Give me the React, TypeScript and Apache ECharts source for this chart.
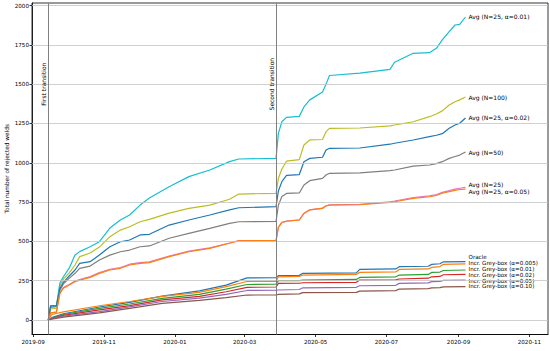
import React, { useEffect, useRef } from 'react';
import * as echarts from 'echarts';

// ---------- data ----------
const avgDates = [
  '2019-09-14', '2019-09-16', '2019-09-21', '2019-09-24', '2019-09-27', '2019-10-02', '2019-10-07',
  '2019-10-11', '2019-10-20', '2019-10-28', '2019-11-06', '2019-11-15', '2019-11-23', '2019-12-02',
  '2019-12-10', '2019-12-27', '2020-01-13', '2020-01-31', '2020-02-17', '2020-02-25', '2020-03-28',
  '2020-03-30', '2020-04-02', '2020-04-06', '2020-04-17', '2020-04-21', '2020-04-26', '2020-05-07',
  '2020-05-10', '2020-05-13', '2020-06-08', '2020-07-04', '2020-07-08', '2020-07-24', '2020-08-07',
  '2020-08-13', '2020-08-18', '2020-08-24', '2020-08-29', '2020-09-02', '2020-09-07',
];
const avgN25A001 = [
  0, 90, 90, 235, 275, 330, 413, 435, 466, 498, 585, 636, 668, 731, 776, 848, 912, 954, 1007, 1024, 1028,
  1187, 1261, 1289, 1295, 1355, 1400, 1450, 1500, 1555, 1570, 1594, 1639, 1696, 1700, 1728, 1781, 1834, 1876, 1880, 1927,
];
const avgN100 = [
  0, 70, 75, 220, 260, 300, 350, 403, 426, 464, 530, 572, 593, 625, 640, 680, 710, 731, 768, 801, 806,
  900, 960, 1010, 1020, 1113, 1145, 1148, 1198, 1219, 1221, 1235, 1240, 1261, 1293, 1310, 1330, 1367, 1388, 1400, 1418,
];
const avgN25A002 = [
  0, 90, 90, 200, 240, 280, 318, 360, 371, 413, 466, 498, 509, 541, 545, 604, 636, 668, 700, 714, 721,
  820, 880, 920, 925, 1007, 1028, 1035, 1081, 1092, 1094, 1118, 1124, 1145, 1166, 1175, 1185, 1219, 1240, 1251, 1285,
];
const avgN50 = [
  0, 80, 85, 190, 230, 265, 297, 329, 343, 382, 413, 434, 445, 466, 471, 520, 551, 583, 615, 625, 627,
  730, 785, 805, 808, 859, 886, 901, 922, 933, 936, 950, 954, 979, 986, 995, 1007, 1028, 1040, 1049, 1068,
];
const avgN25 = [
  0, 45, 50, 172, 206, 226, 248, 258, 276, 302, 323, 334, 355, 365, 370, 407, 438, 459, 490, 505, 506,
  591, 621, 629, 637, 679, 701, 712, 727, 733, 735, 752, 757, 779, 790, 798, 812, 823, 832, 838, 843,
];
const avgN25A005 = [
  0, 45, 50, 170, 203, 223, 244, 254, 271, 297, 318, 329, 350, 360, 365, 403, 434, 456, 488, 504, 505,
  590, 620, 628, 636, 678, 700, 710, 725, 731, 733, 748, 752, 774, 784, 792, 806, 816, 825, 830, 833,
];

const greyDates = [
  '2019-09-14', '2019-09-17', '2019-09-27', '2019-10-28', '2019-11-23', '2019-12-21', '2020-01-22',
  '2020-02-14', '2020-03-03', '2020-03-28', '2020-03-30', '2020-04-17', '2020-04-20', '2020-06-05',
  '2020-06-08', '2020-07-09', '2020-07-12', '2020-08-06', '2020-08-09', '2020-08-16', '2020-08-19', '2020-09-07',
];
const oracle = [0, 15, 40, 83, 112, 152, 185, 222, 268, 270, 282, 284, 297, 300, 322, 325, 339, 342, 354, 358, 370, 372];
const grey0005 = [0, 35, 52, 91, 118, 150, 176, 212, 245, 246, 275, 277, 286, 290, 303, 306, 322, 325, 335, 340, 354, 357];
const grey001 = [0, 12, 35, 74, 102, 138, 163, 196, 226, 228, 250, 251, 254, 258, 271, 275, 286, 290, 303, 305, 315, 318];
const grey002 = [0, 10, 30, 64, 92, 128, 150, 180, 208, 210, 233, 234, 237, 240, 254, 256, 261, 266, 275, 277, 288, 290];
const grey005 = [0, 8, 25, 53, 84, 118, 139, 163, 188, 190, 191, 194, 205, 208, 218, 221, 233, 236, 244, 245, 252, 254];
const grey010 = [0, 5, 18, 45, 74, 106, 125, 142, 159, 160, 163, 166, 174, 176, 184, 187, 197, 200, 205, 206, 211, 212];

const yTicks = [0, 250, 500, 750, 1000, 1250, 1500, 1750, 2000];
const xTickDates = ['2019-09-01', '2019-11-01', '2020-01-01', '2020-03-01', '2020-05-01', '2020-07-01', '2020-09-01', '2020-11-01'];
const transitionDates = ['2019-09-14', '2020-03-28'];
const transitionNames = ['First transition', 'Second transition'];
const transitionLabelSpan = [1000, 2000];
const xRange = ['2019-08-31', '2020-11-17'];
const yRange = [-92, 2016];

// ---------- helpers ----------
const ts = (s: string) => {
  const [y, m, d] = s.split('-').map(Number);
  return Date.UTC(y, m - 1, d);
};
const fmtMonth = (v: number) => {
  const d = new Date(v);
  return `${d.getUTCFullYear()}-${String(d.getUTCMonth() + 1).padStart(2, '0')}`;
};
const pairs = (dates: string[], vals: number[]) => dates.map((d, i) => [ts(d), vals[i]]);

const FONT = 'DejaVu Sans';

const seriesDefs = [
  { name: 'Oracle', color: '#1f77b4', dates: greyDates, values: oracle, dy: -4.2, fs: 5.6 },
  { name: 'Incr. Grey-box (α=0.005)', color: '#ff7f0e', dates: greyDates, values: grey0005, dy: -0.6, fs: 5.6 },
  { name: 'Incr. Grey-box (α=0.01)', color: '#2ca02c', dates: greyDates, values: grey001, dy: -1, fs: 5.6 },
  { name: 'Incr. Grey-box (α=0.02)', color: '#d62728', dates: greyDates, values: grey002, dy: 0.6, fs: 5.6 },
  { name: 'Incr. Grey-box (α=0.05)', color: '#9467bd', dates: greyDates, values: grey005, dy: 0.7, fs: 5.6 },
  { name: 'Incr. Grey-box (α=0.10)', color: '#8c564b', dates: greyDates, values: grey010, dy: -0.6, fs: 5.6 },
  { name: 'Avg (N=25)', color: '#e377c2', dates: avgDates, values: avgN25, dy: -2.6, fs: 6 },
  { name: 'Avg (N=50)', color: '#7f7f7f', dates: avgDates, values: avgN50, dy: 0, fs: 6 },
  { name: 'Avg (N=100)', color: '#bcbd22', dates: avgDates, values: avgN100, dy: 0, fs: 6 },
  { name: 'Avg (N=25, α=0.01)', color: '#17becf', dates: avgDates, values: avgN25A001, dy: 0, fs: 6 },
  { name: 'Avg (N=25, α=0.02)', color: '#1f77b4', dates: avgDates, values: avgN25A002, dy: 0, fs: 6 },
  { name: 'Avg (N=25, α=0.05)', color: '#ff7f0e', dates: avgDates, values: avgN25A005, dy: 2.2, fs: 6 },
];

export default function App() {
  const ref = useRef<HTMLDivElement>(null);
  useEffect(() => {
    document.body.style.margin = '0';
    if (!ref.current) return;
    const chart = echarts.init(ref.current, undefined, { renderer: 'svg' });
    const anchor = [[ts(transitionDates[0]), 0]];
    const option: any = {
      animation: false,
      textStyle: { fontFamily: FONT },
      grid: {
        left: 32, right: 2, top: 3, bottom: 16.5,
        outerBoundsMode: 'none',
        containLabel: false,
        show: true, borderColor: '#000', borderWidth: 0.8, backgroundColor: 'transparent',
      },
      xAxis: {
        type: 'value',
        min: ts(xRange[0]),
        max: ts(xRange[1]),
        splitLine: { show: false },
        axisLine: { show: true, onZero: false, lineStyle: { color: '#000', width: 0.8 } },
        axisTick: { show: true, length: 2.5, lineStyle: { color: '#000', width: 0.8 }, customValues: xTickDates.map(ts) },
        axisLabel: { customValues: xTickDates.map(ts), formatter: (v: number) => fmtMonth(v), fontSize: 5.6, color: '#000', margin: 4, fontFamily: FONT },
      },
      yAxis: {
        type: 'value',
        min: yRange[0],
        max: yRange[1],
        name: 'Total number of rejected welds',
        nameLocation: 'middle',
        nameGap: 22,
        nameMoveOverlap: false,
        nameTextStyle: { fontSize: 5.8, color: '#000', fontFamily: FONT },
        splitLine: { show: false },
        axisLine: { show: true, onZero: false, lineStyle: { color: '#000', width: 0.8 } },
        axisTick: { show: true, length: 2.5, lineStyle: { color: '#000', width: 0.8 }, customValues: yTicks },
        axisLabel: { customValues: yTicks, formatter: (v: number) => String(v), fontSize: 5.6, color: '#000', margin: 3, fontFamily: FONT },
      },
      series: [
        {
          type: 'line',
          name: 'grid',
          data: anchor,
          symbol: 'none',
          lineStyle: { color: 'rgba(0,0,0,0)' },
          silent: true,
          z: 1,
          markLine: {
            silent: true,
            symbol: 'none',
            animation: false,
            label: { show: false },
            lineStyle: { color: '#c4c4c4', width: 0.8, type: 'solid' },
            data: yTicks.map((v) => ({ yAxis: v })),
          },
        },
        ...seriesDefs.map((s) => ({
          type: 'line',
          name: s.name,
          data: pairs(s.dates, s.values),
          symbol: 'none',
          showSymbol: false,
          z: 2,
          lineStyle: { color: s.color, width: 1.2 },
          itemStyle: { color: s.color },
          endLabel: {
            show: true,
            formatter: '{a}',
            fontSize: s.fs,
            lineHeight: s.fs,
            fontFamily: FONT,
            color: '#000',
            distance: 3,
            offset: [0, s.dy],
          },
        })),
        {
          type: 'line',
          name: 'transitions',
          data: anchor,
          symbol: 'none',
          lineStyle: { color: 'rgba(0,0,0,0)' },
          silent: true,
          z: 3,
          markLine: {
            silent: true,
            symbol: 'none',
            animation: false,
            label: { show: false },
            lineStyle: { color: '#808080', width: 1, type: 'solid' },
            data: transitionDates.map((d) => ({ xAxis: ts(d) })),
          },
        },
        {
          type: 'line',
          name: 'transitionLabels',
          data: anchor,
          symbol: 'none',
          lineStyle: { color: 'rgba(0,0,0,0)' },
          silent: true,
          z: 3,
          markLine: {
            silent: true,
            symbol: 'none',
            animation: false,
            lineStyle: { color: 'rgba(0,0,0,0)', width: 1 },
            label: { show: true, position: 'insideMiddleTop', formatter: '{b}', fontSize: 6, fontFamily: FONT, color: '#000', distance: 2 },
            data: transitionDates.map((d, i) => [
              { name: transitionNames[i], coord: [ts(d), transitionLabelSpan[0]] },
              { coord: [ts(d), transitionLabelSpan[1]] },
            ]),
          },
        },
      ],
    };
    chart.setOption(option);
    return () => chart.dispose();
  }, []);
  return <div ref={ref} style={{ width: 550, height: 351 }} />;
}
